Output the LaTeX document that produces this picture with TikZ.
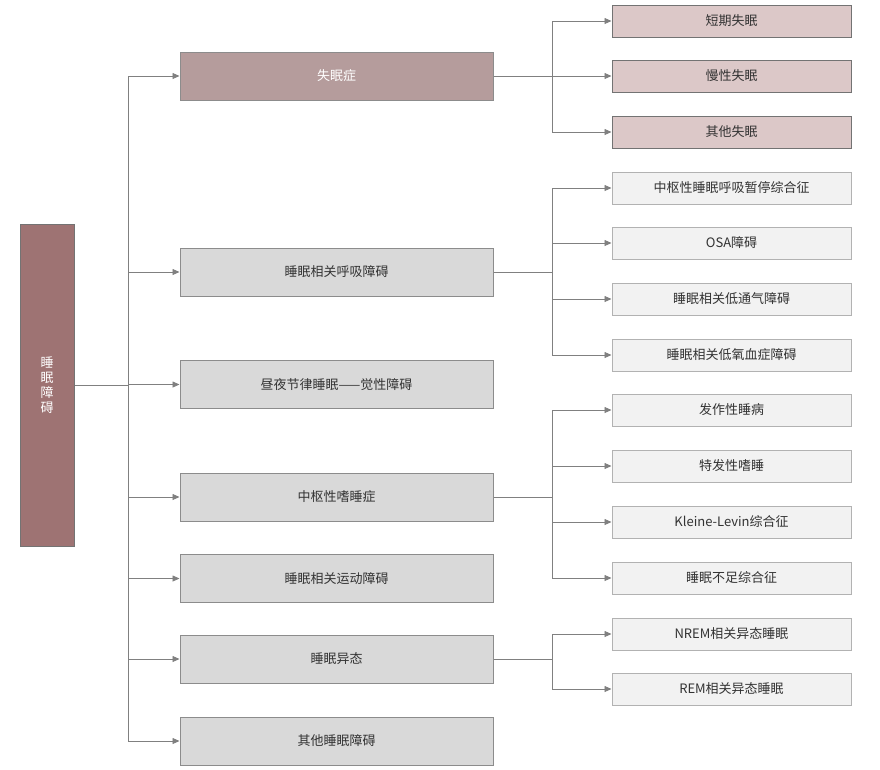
\documentclass[tikz,border=0pt]{standalone}
\usepackage{fontspec}
\setmainfont{Noto Sans CJK SC}
\usetikzlibrary{arrows.meta}
\definecolor{rootc}{HTML}{9E7373}
\definecolor{insc}{HTML}{B59C9C}
\definecolor{pinkc}{HTML}{DCC8C8}
\definecolor{l1g}{HTML}{D9D9D9}
\definecolor{l2g}{HTML}{F2F2F2}
\definecolor{linec}{HTML}{808080}
\tikzset{
 box/.style={draw=#1, line width=1pt, inner sep=0pt, font=\fontsize{13}{15}\selectfont, text=black!80},
 l1/.style={box=black!45, fill=l1g, minimum width=313pt, minimum height=48pt},
 l1i/.style={box=black!45, fill=insc, text=white, minimum width=313pt, minimum height=48pt},
 l2/.style={box=black!30, fill=l2g, minimum width=239pt, minimum height=32pt},
 l2p/.style={box=black!55, fill=pinkc, minimum width=239pt, minimum height=32pt},
 con/.style={draw=linec, line width=0.8pt},
 arr/.style={con, -{Triangle[length=7pt,width=6pt]}}
}
\begin{document}
\begin{tikzpicture}[x=1pt,y=-1pt]
\useasboundingbox (0,0) rectangle (880,769);
\node[box=black!55, fill=rootc, text=white, minimum width=54pt, minimum height=322pt, align=center] (root) at (47,385) {睡\\眠\\障\\碍};
\node[l1i] (a) at (336.5,76) {失眠症};
\node[l1] (b) at (336.5,272) {睡眠相关呼吸障碍};
\node[l1] (c) at (336.5,384.5) {昼夜节律睡眠——觉性障碍};
\node[l1] (d) at (336.5,497) {中枢性嗜睡症};
\node[l1] (e) at (336.5,578.5) {睡眠相关运动障碍};
\node[l1] (f) at (336.5,659) {睡眠异态};
\node[l1] (g) at (336.5,741) {其他睡眠障碍};
\coordinate (t1) at (128,385);
\draw[con] (root.east) -- (t1);
\draw[con] (128,76) -- (128,741);
\foreach \n in {a,b,c,d,e,f,g}{\draw[arr] (128,0 |- \n.west) -- (\n.west);}
\node[l2p] (a1) at (731.5,21) {短期失眠};
\node[l2p] (a2) at (731.5,76) {慢性失眠};
\node[l2p] (a3) at (731.5,132) {其他失眠};
\node[l2] (b1) at (731.5,188) {中枢性睡眠呼吸暂停综合征};
\node[l2] (b2) at (731.5,243) {OSA障碍};
\node[l2] (b3) at (731.5,299) {睡眠相关低通气障碍};
\node[l2] (b4) at (731.5,355) {睡眠相关低氧血症障碍};
\node[l2] (d1) at (731.5,410) {发作性睡病};
\node[l2] (d2) at (731.5,466) {特发性嗜睡};
\node[l2] (d3) at (731.5,522) {Kleine-Levin综合征};
\node[l2] (d4) at (731.5,578) {睡眠不足综合征};
\node[l2] (f1) at (731.5,634) {NREM相关异态睡眠};
\node[l2] (f2) at (731.5,689) {REM相关异态睡眠};
\newcommand\grp[4]{%
 \draw[con] (#1.east) -- (552,0 |- #1.east);
 \draw[con] (552,0 |- #2.west) -- (552,0 |- #3.west);
 \foreach \m in {#4}{\draw[arr] (552,0 |- \m.west) -- (\m.west);}}
\grp{a}{a1}{a3}{a1,a2,a3}
\grp{b}{b1}{b4}{b1,b2,b3,b4}
\grp{d}{d1}{d4}{d1,d2,d3,d4}
\grp{f}{f1}{f2}{f1,f2}
\end{tikzpicture}
\end{document}
